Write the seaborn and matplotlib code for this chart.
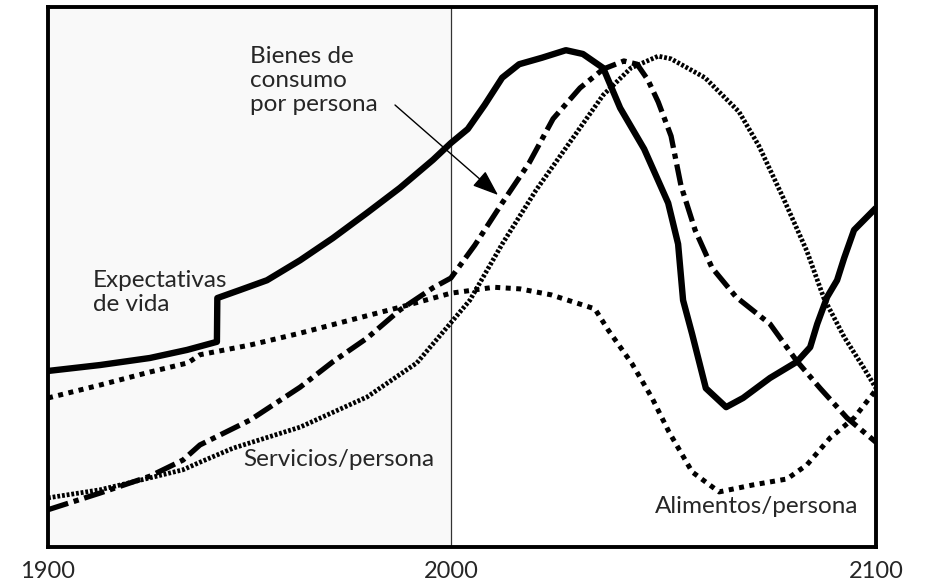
import matplotlib
matplotlib.use("Agg")
import matplotlib.pyplot as plt
import seaborn as sns
import pandas as pd

# ---- data (years, relative level 0-100) ----
life_years = [1900.0, 1912.6, 1924.6, 1933.6, 1940.8, 1940.9, 1946.4, 1952.9, 1960.9, 1968.8,
              1977.1, 1985.0, 1993.0, 1997.3, 2001.4, 2005.5, 2009.7, 2013.8, 2019.3, 2025.1,
              2029.2, 2034.1, 2038.2, 2044.0, 2049.8, 2052.2, 2053.4, 2055.6, 2058.9, 2063.8,
              2067.9, 2074.4, 2080.9, 2084.1, 2085.8, 2088.2, 2090.6, 2092.3, 2094.7, 2100.0]
life_vals = [32.6, 33.7, 35.0, 36.5, 38.0, 46.1, 47.6, 49.4, 53.1, 57.2,
             61.9, 66.5, 71.7, 74.8, 77.4, 81.9, 86.9, 89.4, 90.6, 92.0,
             91.3, 88.7, 81.3, 73.7, 63.7, 56.1, 45.7, 39.4, 29.4, 25.9,
             27.6, 31.3, 34.3, 37.0, 41.3, 46.3, 49.4, 53.5, 58.7, 62.8]

goods_years = [1900.0, 1912.6, 1924.6, 1932.6, 1936.7, 1948.8, 1960.9, 1968.8, 1977.1, 1985.0,
               1993.0, 1997.3, 2003.1, 2009.7, 2016.2, 2022.0, 2028.5, 2034.1, 2039.1, 2042.3,
               2044.9, 2047.4, 2050.5, 2052.9, 2056.3, 2060.4, 2066.2, 2074.4, 2080.9, 2086.5,
               2093.0, 2100.0]
goods_vals = [6.9, 10.0, 13.1, 16.1, 18.9, 23.5, 29.6, 34.3, 38.7, 43.9,
              48.0, 49.8, 55.9, 63.7, 71.1, 79.3, 85.0, 88.5, 90.0, 89.4,
              86.5, 82.4, 76.1, 66.9, 58.7, 51.7, 46.3, 41.3, 34.4, 29.4,
              23.9, 19.4]

serv_years = [1900.0, 1912.6, 1924.6, 1932.6, 1936.7, 1944.7, 1960.9, 1977.1, 1989.1, 1996.4,
              2001.9, 2009.7, 2017.9, 2026.1, 2034.1, 2040.8, 2047.4, 2050.5, 2058.7, 2066.9,
              2071.7, 2077.5, 2083.3, 2087.4, 2092.3, 2097.1, 2100.0]
serv_vals = [9.1, 10.6, 12.8, 14.3, 15.7, 18.3, 22.2, 27.8, 34.1, 40.7,
             45.7, 56.1, 66.1, 75.0, 83.7, 88.7, 90.9, 90.4, 86.9, 80.6,
             74.3, 64.8, 54.8, 46.1, 38.9, 33.1, 29.4]

food_years = [1900.0, 1912.6, 1924.6, 1933.8, 1936.7, 1948.8, 1960.9, 1972.9, 1985.0, 1997.3,
              2007.7, 2014.0, 2021.5, 2032.1, 2035.3, 2041.1, 2045.9, 2050.0, 2055.6, 2062.1,
              2070.3, 2078.5, 2083.3, 2088.9, 2094.7, 2100.0]
food_vals = [27.6, 30.0, 32.4, 34.1, 35.6, 37.4, 39.6, 42.0, 44.4, 47.0,
             48.1, 47.8, 46.7, 44.1, 40.2, 33.9, 27.6, 21.3, 13.9, 10.2,
             11.5, 12.6, 15.2, 20.2, 23.9, 29.1]

tick_pos = [1900, 1997.3, 2100]
tick_labels = ["1900", "2000", "2100"]
now_year = 1997.3

sns.set_style("white")
plt.rcParams['font.family'] = ['Lato', 'DejaVu Sans']

fig = plt.figure(figsize=(9.25, 5.81), dpi=100)
ax = fig.add_axes([48/925, 1-547/581, (876-48)/925, (547-7)/581])

ax.axvspan(1900, now_year, color='#f9f9f9', zorder=0, lw=0)
ax.axvline(now_year, color='#333333', lw=0.9, zorder=1)

def draw(years, vals, **kw):
    df = pd.DataFrame({"year": years, "val": vals})
    sns.lineplot(data=df, x="year", y="val", ax=ax, sort=False, estimator=None,
                 color="black", **kw)

draw(serv_years, serv_vals, lw=3.4, linestyle=(0, (0.6, 0.4)), dash_capstyle='butt')
draw(food_years, food_vals, lw=3.6, linestyle=(0, (1.0, 1.1)), dash_capstyle='butt')
draw(goods_years, goods_vals, lw=3.8, linestyle=(0, (4.0, 1.1, 1.0, 1.1)), dash_capstyle='butt')
draw(life_years, life_vals, lw=4.6, solid_capstyle='butt', solid_joinstyle='round')

ax.set_xlim(1900, 2100)
ax.set_ylim(0, 100)
ax.set_xticks(tick_pos)
ax.set_xticklabels(tick_labels)
ax.set_yticks([])
ax.set_xlabel("")
ax.set_ylabel("")
ax.tick_params(axis='x', length=0, pad=10, labelsize=17)
for s in ax.spines.values():
    s.set_visible(True)
    s.set_color("black")
    s.set_linewidth(2.8)

fs = 17.5
def px2x(px):
    return 1900 + (px - 48) * 200 / 828
def py2y(py):
    return (547 - py) / 5.4

ax.text(px2x(93), py2y(287), "Expectativas", fontsize=fs, va='baseline')
ax.text(px2x(93), py2y(311), "de vida", fontsize=fs, va='baseline')
ax.text(px2x(250), py2y(63), "Bienes de", fontsize=fs, va='baseline')
ax.text(px2x(250), py2y(87), "consumo", fontsize=fs, va='baseline')
ax.text(px2x(250), py2y(111), "por persona", fontsize=fs, va='baseline')
ax.text(px2x(243), py2y(466), "Servicios/persona", fontsize=fs, va='baseline')
ax.text(px2x(655), py2y(513), "Alimentos/persona", fontsize=fs, va='baseline')

ax.annotate("", xy=(px2x(498), py2y(195)), xytext=(px2x(395), py2y(105)),
            arrowprops=dict(arrowstyle='-|>,head_length=0.8,head_width=0.3',
                            lw=1.0, color='black', mutation_scale=20,
                            shrinkA=0, shrinkB=0))

fig.savefig("out.png", dpi=100)
